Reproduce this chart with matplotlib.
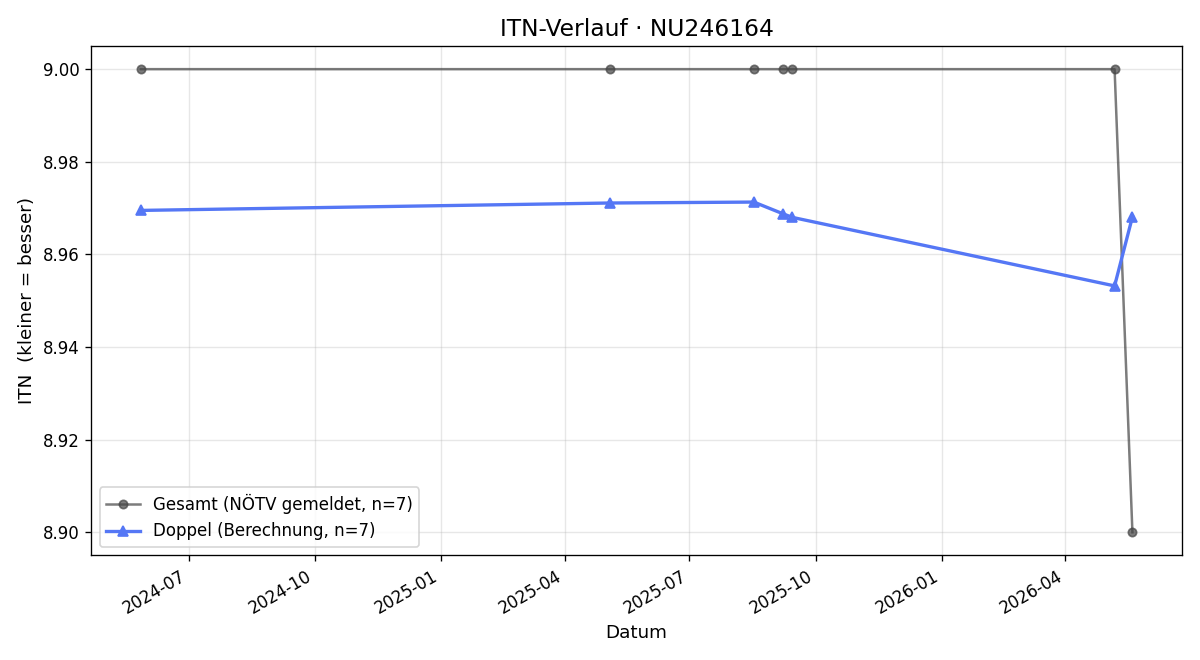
import matplotlib
matplotlib.use("Agg")
import matplotlib.pyplot as plt
import matplotlib.dates as mdates
import pandas as pd

# Spieltermine
dates = pd.to_datetime(["2024-05-27", "2025-05-04", "2025-08-17", "2025-09-07",
                        "2025-09-14", "2026-05-07", "2026-05-20"])
gesamt = [9.00, 9.00, 9.00, 9.00, 9.00, 9.00, 8.90]
doppel = [8.9695, 8.9711, 8.9713, 8.9688, 8.9680, 8.9532, 8.9681]

fig, ax = plt.subplots(figsize=(10, 5.5), dpi=120)
ax.plot(dates, gesamt, marker="o", ms=5, lw=1.5, color="#444444", alpha=0.7,
        label="Gesamt (NÖTV gemeldet, n=7)")
ax.plot(dates, doppel, marker="^", ms=6, lw=2, color="#5577f5",
        label="Doppel (Berechnung, n=7)")

ax.set_title("ITN-Verlauf · NU246164", fontsize=14)
ax.set_xlabel("Datum", fontsize=11)
ax.set_ylabel("ITN  (kleiner = besser)", fontsize=11)
ax.yaxis.set_major_formatter(matplotlib.ticker.FormatStrFormatter("%.2f"))
ax.xaxis.set_major_locator(mdates.MonthLocator(bymonth=[1, 4, 7, 10]))
ax.xaxis.set_major_formatter(mdates.DateFormatter("%Y-%m"))
ax.grid(True, alpha=0.3)
ax.legend(loc="lower left")
fig.autofmt_xdate()
plt.tight_layout()
plt.savefig("out.png", dpi=120)
